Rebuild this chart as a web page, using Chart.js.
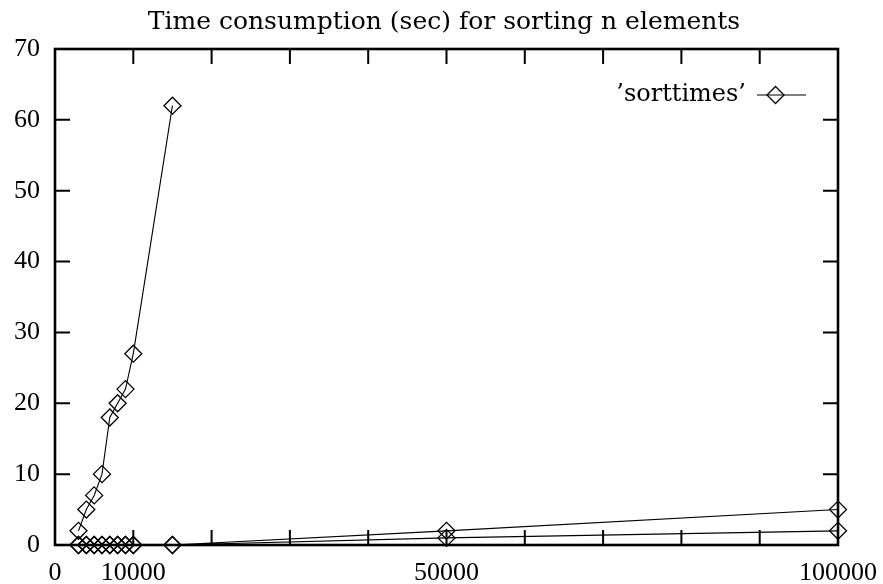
<!DOCTYPE html>
<html>
<head>
<meta charset="utf-8">
<script src="https://cdn.jsdelivr.net/npm/chart.js@4/dist/chart.umd.min.js"></script>
<style>
  html, body { margin: 0; padding: 0; background: #ffffff; }
  #wrap { width: 883px; height: 584px; }
</style>
</head>
<body>
<div id="wrap"><canvas id="chart" width="883" height="584"></canvas></div>
<script>
// Sorting run times (seconds) against number of elements n, one block per run
const sizesSlow  = [3000, 4000, 5000, 6000, 7000, 8000, 9000, 10000, 15000];
const timesSlow  = [2, 5, 7, 10, 18, 20, 22, 27, 62];
const sizesFast  = [3000, 4000, 5000, 6000, 7000, 8000, 9000, 10000, 15000, 50000, 100000];
const timesFastA = [0, 0, 0, 0, 0, 0, 0, 0, 0, 1, 2];
const timesFastB = [0, 0, 0, 0, 0, 0, 0, 0, 0, 2, 5];

const xTickLabels = [0, 10000, 50000, 100000];
const xTickMarks  = [0, 10000, 20000, 30000, 40000, 50000, 60000, 70000, 80000, 90000, 100000];
const yTickValues = [0, 10, 20, 30, 40, 50, 60, 70];

const seriesLabel = '\u2019sorttimes\u2019';
const titleText = 'Time consumption (sec) for sorting n elements';

// one dataset; blocks are separated by a gap point so the line breaks between them
function block(xs, ys) { return xs.map((x, i) => ({ x: x, y: ys[i] })); }
const points = [].concat(
  block(sizesSlow, timesSlow), [{ x: 15000, y: null }],
  block(sizesFast, timesFastA), [{ x: 100000, y: null }],
  block(sizesFast, timesFastB)
);

const NUM_FONT = { family: '"Liberation Serif", serif', size: 26 };
const TXT_FONT = '24px "DejaVu Serif", serif';

// frame with inward tick marks on all four sides, plus the key in the top-right corner
const framePlugin = {
  id: 'frame',
  beforeDatasetsDraw(chart) {
    const { ctx, chartArea: a, scales: { x, y } } = chart;
    const tl = 15;
    ctx.save();
    ctx.strokeStyle = '#000';
    ctx.lineWidth = 2;
    ctx.beginPath();
    xTickMarks.forEach(v => {
      const px = x.getPixelForValue(v);
      ctx.moveTo(px, a.bottom); ctx.lineTo(px, a.bottom - tl);
      ctx.moveTo(px, a.top);    ctx.lineTo(px, a.top + tl);
    });
    yTickValues.forEach(v => {
      const py = y.getPixelForValue(v);
      ctx.moveTo(a.left, py);  ctx.lineTo(a.left + tl, py);
      ctx.moveTo(a.right, py); ctx.lineTo(a.right - tl, py);
    });
    ctx.stroke();
    ctx.lineWidth = 2.6;
    ctx.strokeRect(a.left, a.top, a.right - a.left, a.bottom - a.top);
    ctx.restore();
  },
  afterDatasetsDraw(chart) {
    const { ctx, chartArea: a } = chart;
    const ds = chart.data.datasets[0];
    const ky = a.top + 46;
    const lineEnd = a.right - 32, lineStart = a.right - 81;
    ctx.save();
    ctx.fillStyle = '#000';
    ctx.font = TXT_FONT;
    ctx.textAlign = 'right';
    ctx.textBaseline = 'middle';
    ctx.fillText(seriesLabel, a.right - 92, ky);
    ctx.strokeStyle = ds.borderColor;
    ctx.lineWidth = ds.borderWidth;
    ctx.beginPath();
    ctx.moveTo(lineStart, ky); ctx.lineTo(lineEnd, ky);
    ctx.stroke();
    ctx.fillStyle = 'rgba(0,0,0,0)';
    ctx.lineWidth = ds.pointBorderWidth;
    Chart.helpers.drawPoint(ctx, {
      pointStyle: 'rectRot', radius: ds.pointRadius, borderWidth: ds.pointBorderWidth, rotation: 0
    }, (lineStart + lineEnd) / 2 - 6, ky);
    ctx.restore();
  }
};

new Chart(document.getElementById('chart'), {
  type: 'line',
  data: {
    datasets: [{
      label: seriesLabel,
      data: points,
      borderColor: '#000',
      borderWidth: 1.1,
      backgroundColor: 'rgba(0,0,0,0)',
      pointStyle: 'rectRot',
      pointRadius: 8.5,
      pointBorderWidth: 1.3,
      pointBorderColor: '#000',
      pointBackgroundColor: 'rgba(0,0,0,0)',
      spanGaps: false,
      tension: 0,
      clip: false
    }]
  },
  options: {
    responsive: false,
    animation: false,
    devicePixelRatio: 1,
    layout: { padding: { left: 5, right: 0, top: 0, bottom: 0 } },
    plugins: {
      legend: { display: false },
      tooltip: { enabled: false },
      title: {
        display: true,
        text: titleText,
        color: '#000',
        font: { family: '"DejaVu Serif", serif', size: 25, weight: 'normal', lineHeight: 1.2 },
        padding: { top: 7.5, bottom: 11.5 }
      }
    },
    scales: {
      x: {
        type: 'linear',
        min: 0, max: 100000,
        grid: { display: false, drawTicks: false },
        border: { display: false },
        afterBuildTicks: s => { s.ticks = xTickLabels.map(v => ({ value: v })); },
        afterFit: s => { s.height = 39; s.paddingRight = 45; s.paddingLeft = 0; },
        ticks: {
          color: '#000', font: NUM_FONT, padding: 13,
          autoSkip: false, maxRotation: 0, minRotation: 0,
          callback: v => String(v)
        }
      },
      y: {
        type: 'linear',
        min: 0, max: 70,
        grid: { display: false, drawTicks: false },
        border: { display: false },
        afterBuildTicks: s => { s.ticks = yTickValues.map(v => ({ value: v })); },
        afterFit: s => { s.width = 50; s.paddingTop = 0; s.paddingBottom = 0; },
        ticks: { color: '#000', font: NUM_FONT, padding: 15, callback: v => String(v) }
      }
    }
  },
  plugins: [framePlugin]
});
</script>
</body>
</html>
